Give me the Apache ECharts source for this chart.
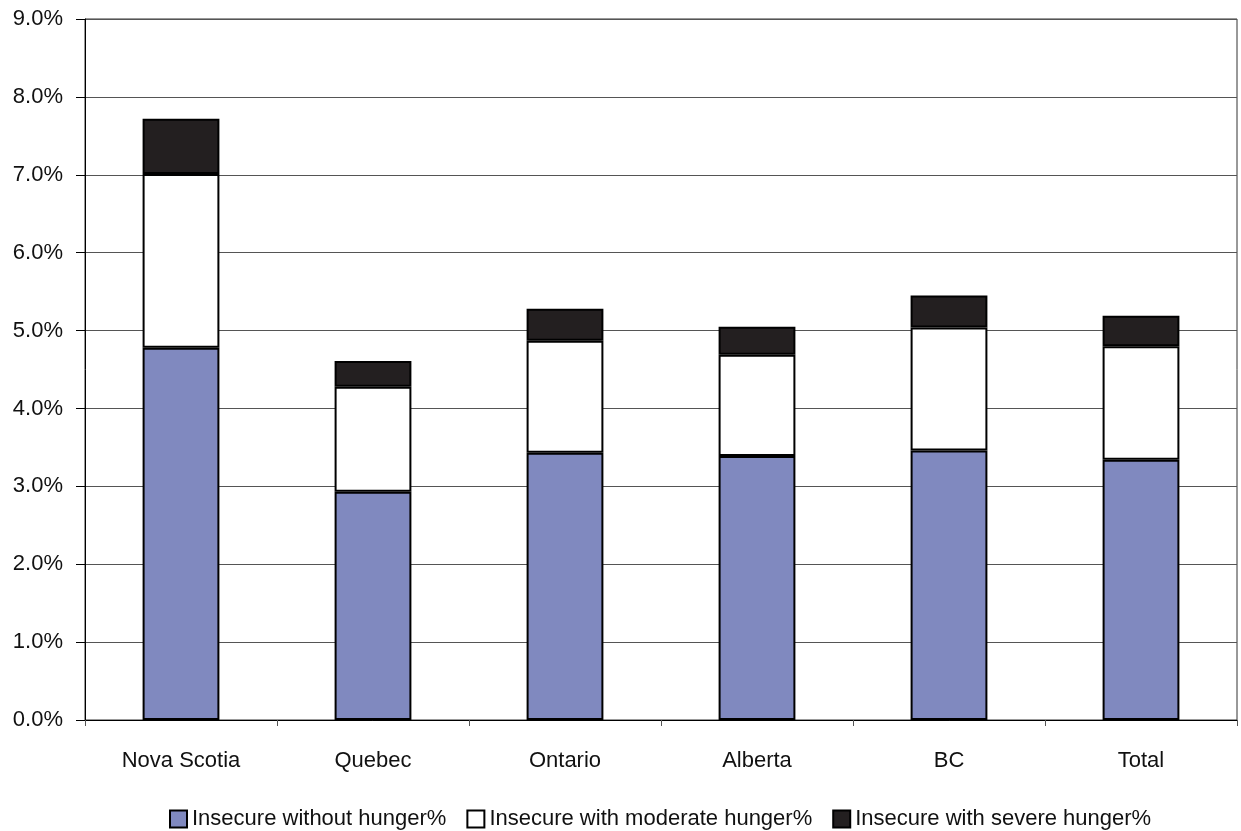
<!DOCTYPE html>
<html>
<head>
<meta charset="utf-8">
<script src="https://cdn.jsdelivr.net/npm/echarts@6/dist/echarts.min.js"></script>
<style>
  html, body { margin: 0; padding: 0; background: #fff; }
  #chart { width: 1241px; height: 831px; }
</style>
</head>
<body>
<div id="chart"></div>
<script>
// Food insecurity by province (% of households)
const categories = ['Nova Scotia', 'Quebec', 'Ontario', 'Alberta', 'BC', 'Total'];
const withoutHunger = [4.78, 2.93, 3.43, 3.39, 3.46, 3.34];
const moderateHunger = [2.23, 1.35, 1.44, 1.30, 1.58, 1.46];
const severeHunger = [0.71, 0.33, 0.41, 0.36, 0.41, 0.39];
const seriesNames = ['Insecure without hunger%', 'Insecure with moderate hunger%', 'Insecure with severe hunger%'];

const FONT = '"Liberation Sans Narrow", "Arial Narrow", "Liberation Sans", Arial, sans-serif';

const chart = echarts.init(document.getElementById('chart'), null, { renderer: 'canvas' });

function barSeries(name, data, color) {
  return {
    name: name,
    type: 'bar',
    stack: 'total',
    data: data,
    barWidth: '40%',
    itemStyle: { color: color, borderColor: '#000', borderWidth: 2 },
    emphasis: { disabled: true }
  };
}

chart.setOption({
  animation: false,
  backgroundColor: '#fff',
  textStyle: { fontFamily: FONT },
  grid: {
    left: 85, right: 4, top: 19, bottom: 111,
    show: true, borderColor: '#333', borderWidth: 1, backgroundColor: 'transparent'
  },
  legend: {
    top: 803,
    left: 164,
    itemWidth: 17,
    itemHeight: 17,
    itemGap: 20,
    icon: 'rect',
    textStyle: { fontFamily: FONT, fontSize: 22, color: '#111' },
    data: seriesNames
  },
  xAxis: {
    type: 'category',
    data: categories,
    axisLine: { lineStyle: { color: '#000', width: 1 } },
    axisTick: { show: true, length: 6, lineStyle: { color: '#555' } },
    axisLabel: { fontFamily: FONT, fontSize: 22, color: '#111', margin: 30 }
  },
  yAxis: {
    type: 'value',
    min: 0,
    max: 9,
    interval: 1,
    axisLine: { show: true, lineStyle: { color: '#000', width: 1 } },
    axisTick: { show: true, length: 9, lineStyle: { color: '#000' } },
    axisLabel: {
      fontFamily: FONT, fontSize: 22, color: '#111', margin: 22,
      formatter: v => v.toFixed(1) + '%'
    },
    splitLine: { show: true, lineStyle: { color: '#555', width: 1 } }
  },
  series: [
    barSeries(seriesNames[0], withoutHunger, '#8089BF'),
    barSeries(seriesNames[1], moderateHunger, '#ffffff'),
    barSeries(seriesNames[2], severeHunger, '#231F20')
  ]
});
</script>
</body>
</html>
